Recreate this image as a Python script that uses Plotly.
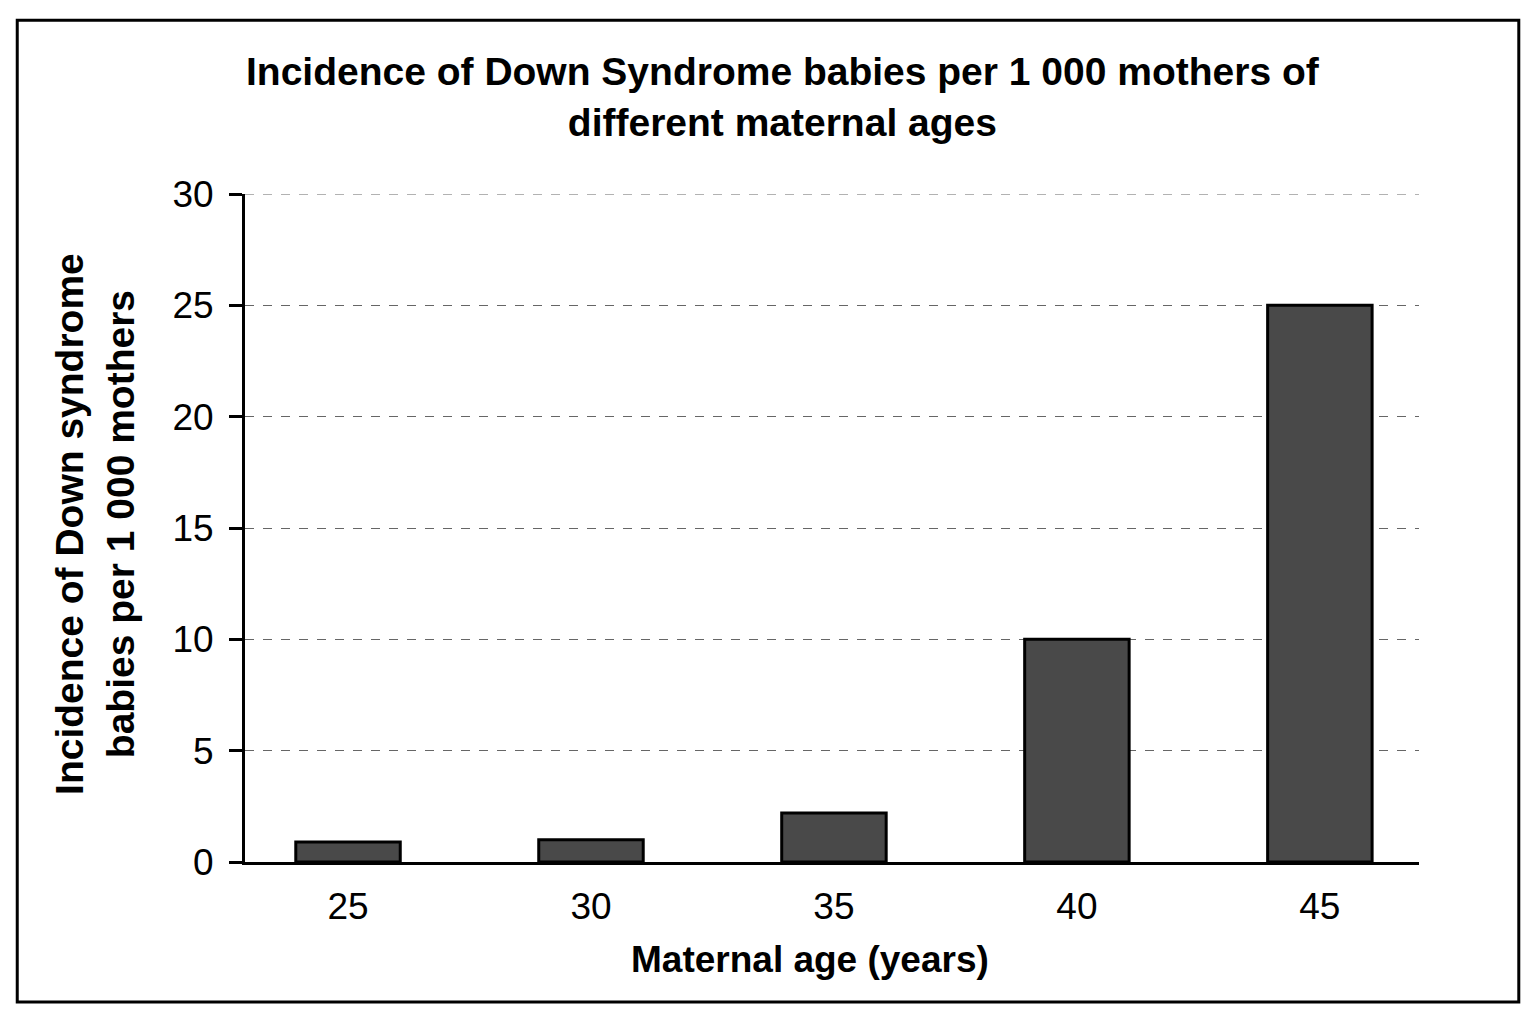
import plotly.graph_objects as go

ages = [25, 30, 35, 40, 45]
incidence = [0.9, 1.0, 2.2, 10, 25]
y_ticks = [0, 5, 10, 15, 20, 25, 30]
title_text = "<b>Incidence of Down Syndrome babies per 1 000 mothers of<br>different maternal ages</b>"
x_title = "<b>Maternal age (years)</b>"
y_title = "<b>Incidence of Down syndrome<br>babies per 1 000 mothers</b>"

FONT = "Liberation Sans, Arial, sans-serif"

fig = go.Figure()
fig.add_trace(go.Bar(
    x=ages, y=incidence, width=2.15,
    marker=dict(color="#494949", line=dict(color="black", width=3)),
))

fig.update_layout(
    width=1536, height=1024,
    margin=dict(l=245, r=117, t=194, b=162),
    paper_bgcolor="white", plot_bgcolor="white",
    showlegend=False,
    font=dict(family=FONT, color="black"),
)
fig.update_xaxes(
    range=[22.88, 47.04], tickvals=ages, ticktext=[str(a) for a in ages],
    showline=True, linecolor="black", linewidth=3, ticks="",
    showgrid=False, zeroline=False,
    tickfont=dict(size=37), ticklabelstandoff=10,
)
fig.update_yaxes(
    range=[0, 30], tickvals=y_ticks,
    showline=True, linecolor="black", linewidth=3,
    ticks="outside", ticklen=13, tickwidth=3, tickcolor="black",
    showgrid=True, gridcolor="#666666", griddash="dash", gridwidth=1,
    zeroline=False,
    tickfont=dict(size=37), ticklabelstandoff=8,
)
# top gridline (plotly hides the one on the plot edge)
fig.add_shape(type="line", xref="paper", yref="y", x0=0, x1=1,
              y0=y_ticks[-1], y1=y_ticks[-1],
              line=dict(color="#666666", width=1, dash="dash"), layer="below")
fig.add_annotation(text=title_text, xref="paper", yref="paper",
                   x=0.458, y=1.145, xanchor="center", yanchor="middle",
                   showarrow=False, font=dict(size=39), align="center")
fig.add_annotation(text=x_title, xref="paper", yref="paper",
                   x=0.481, y=-0.1467, xanchor="center", yanchor="middle",
                   showarrow=False, font=dict(size=37))
fig.add_annotation(text=y_title, xref="paper", yref="paper",
                   x=-0.1278, y=0.506, xanchor="center", yanchor="middle",
                   textangle=-90, showarrow=False, font=dict(size=39), align="center")
fig.add_shape(type="rect", xref="paper", yref="paper",
              x0=-0.194, x1=1.085, y0=-0.2096, y1=1.26,
              line=dict(color="black", width=3), fillcolor="rgba(0,0,0,0)")

fig.write_html("out.html")
